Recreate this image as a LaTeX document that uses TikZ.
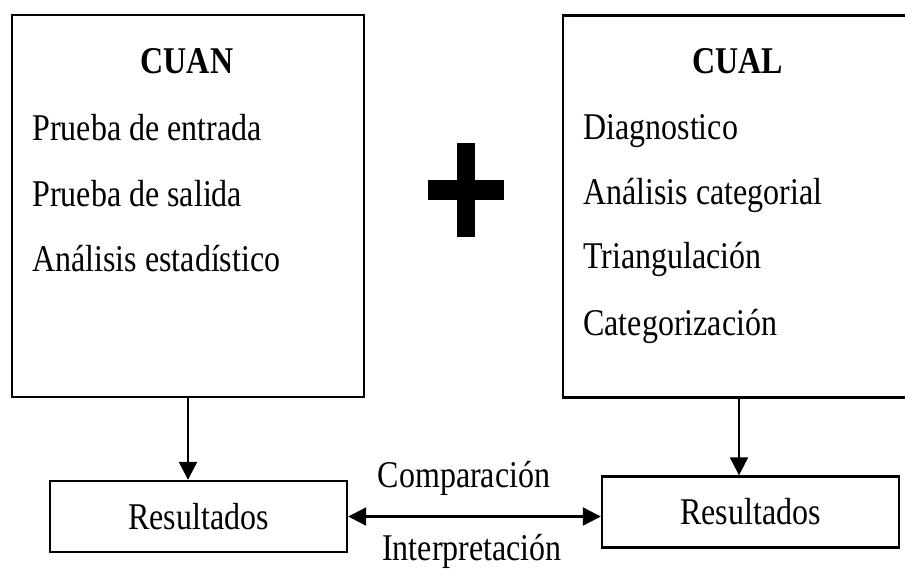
\documentclass[tikz,border=0pt]{standalone}
\usepackage{fontspec}
\setmainfont{Liberation Serif}
\usetikzlibrary{arrows.meta, positioning}
\newcommand{\tallt}[1]{\scalebox{1}[1.18]{#1}}

\begin{document}
\begin{tikzpicture}[
  x=0.5pt, y=-0.5pt,
  bigbox/.style={rectangle, draw, line width=1.2pt, minimum width=176pt, minimum height=191pt, inner sep=0pt},
  resbox/.style={rectangle, draw, line width=1.2pt, minimum width=148.5pt, minimum height=35.5pt, font=\fontsize{16}{19}\selectfont},
  item/.style={anchor=base west, inner sep=0pt, font=\fontsize{16}{19}\selectfont},
  head/.style={anchor=base, inner sep=0pt, font=\fontsize{16}{19}\selectfont\bfseries},
  lbl/.style={anchor=base, inner sep=0pt, font=\fontsize{16}{19}\selectfont},
  arr/.style={line width=1.1pt, -{Triangle[length=9pt, width=9pt]}}
  ]
  \clip (0,0) rectangle (905,570);

  \node[bigbox] (cuan) at (188,206) {};
  \node[bigbox] (cual) at (739,206.5) {};

  \node[head] (cuanT) at (187,73) {\tallt{CUAN}};
  \node[item] (cuan1) at (32,140) {\tallt{Prueba de entrada}};
  \node[item] (cuan2) at (32,206) {\tallt{Prueba de salida}};
  \node[item] (cuan3) at (32,271) {\tallt{Análisis estadístico}};

  \node[head] (cualT) at (738,73) {\tallt{CUAL}};
  \node[item] (cual1) at (583,139) {\tallt{Diagnostico}};
  \node[item] (cual2) at (583,204) {\tallt{Análisis categorial}};
  \node[item] (cual3) at (583,268) {\tallt{Triangulación}};
  \node[item] (cual4) at (583,335) {\tallt{Categorización}};

  % plus sign
  \fill (457,143) rectangle (475,237);
  \fill (428,180) rectangle (504,200);

  \node[resbox] (resL) at (198.5,516.5) {\raisebox{-2pt}{\tallt{Resultados}}};
  \node[resbox] (resR) at (750.5,512) {\raisebox{-2pt}{\tallt{Resultados}}};

  \draw[arr] (cuan.south) -- (cuan.south |- resL.north);
  \draw[arr] (cual.south) -- (cual.south |- resR.north);
  \draw[arr, {Triangle[length=9pt, width=9pt]}-{Triangle[length=9pt, width=9pt]}] (resL.east) -- (resL.east -| resR.west);

  \node[lbl] (cmp) at (464,487) {\tallt{Comparación}};
  \node[lbl] (itp) at (472,560) {\tallt{Interpretación}};
\end{tikzpicture}
\end{document}
